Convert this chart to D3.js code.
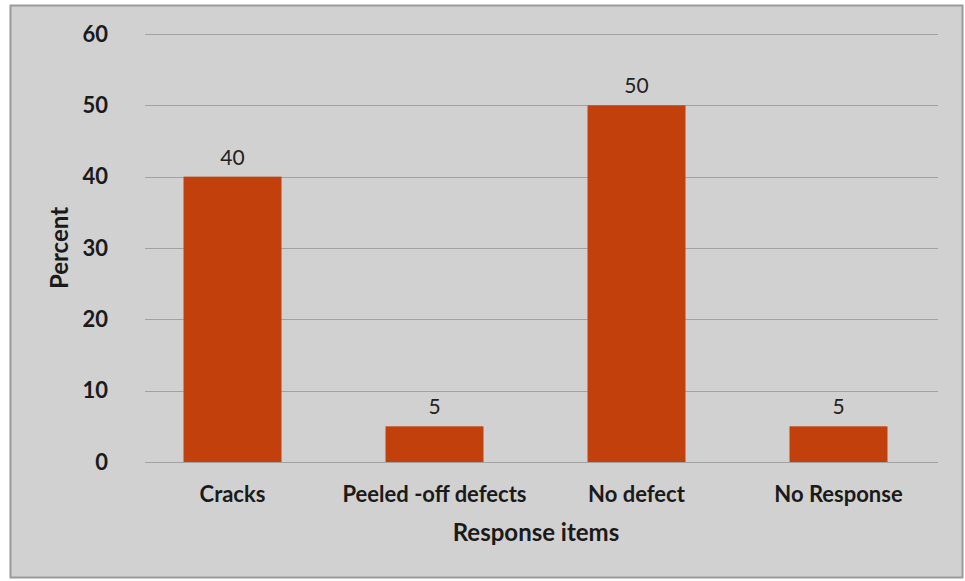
<!DOCTYPE html>
<html>
<head>
<meta charset="utf-8">
<script src="https://cdn.jsdelivr.net/npm/d3@7"></script>
<style>
  html, body { margin: 0; padding: 0; background: #ffffff; }
  svg { display: block; }
</style>
</head>
<body>
<svg id="chart" width="965" height="581"></svg>
<script>
// Survey responses on observed defects
const categories = ["Cracks", "Peeled -off defects", "No defect", "No Response"];
const percents = [40, 5, 50, 5];
const yTicks = [0, 10, 20, 30, 40, 50, 60];

const svg = d3.select("#chart");
const font = "Lato, 'Liberation Sans', Arial, sans-serif";

// outer frame
svg.append("rect")
  .attr("x", 10.5).attr("y", 5.5)
  .attr("width", 952).attr("height", 572)
  .attr("fill", "#d1d1d1")
  .attr("stroke", "#9a9a9a").attr("stroke-width", 2);

const plot = { left: 131, right: 940, top: 34, bottom: 462 };

const x = d3.scaleBand()
  .domain(categories)
  .range([plot.left, plot.right])
  .paddingInner(0.515)
  .paddingOuter(0.26);

const y = d3.scaleLinear()
  .domain([0, 60])
  .range([plot.bottom, plot.top]);

// horizontal gridlines
svg.append("g")
  .selectAll("line")
  .data(yTicks)
  .join("line")
  .attr("x1", plot.left + 14).attr("x2", plot.right - 2)
  .attr("y1", d => Math.round(y(d)) + 0.5)
  .attr("y2", d => Math.round(y(d)) + 0.5)
  .attr("stroke", "#a2a2a2").attr("stroke-width", 1);

// y tick labels
svg.append("g")
  .selectAll("text")
  .data(yTicks)
  .join("text")
  .attr("x", 108)
  .attr("y", d => y(d))
  .attr("dy", "0.35em")
  .attr("text-anchor", "end")
  .attr("font-family", font)
  .attr("font-weight", "bold")
  .attr("font-size", 22)
  .attr("fill", "#1a1a1a")
  .text(d => d);

// bars
svg.append("g")
  .selectAll("rect")
  .data(categories)
  .join("rect")
  .attr("x", d => x(d))
  .attr("y", (d, i) => y(percents[i]))
  .attr("width", x.bandwidth())
  .attr("height", (d, i) => y(0) - y(percents[i]))
  .attr("fill", "#c2400c");

// value labels
svg.append("g")
  .selectAll("text")
  .data(categories)
  .join("text")
  .attr("x", d => x(d) + x.bandwidth() / 2)
  .attr("y", (d, i) => y(percents[i]) - 12)
  .attr("text-anchor", "middle")
  .attr("font-family", font)
  .attr("font-size", 21)
  .attr("fill", "#222")
  .text((d, i) => percents[i]);

// category labels
svg.append("g")
  .selectAll("text")
  .data(categories)
  .join("text")
  .attr("x", d => x(d) + x.bandwidth() / 2)
  .attr("y", 502)
  .attr("text-anchor", "middle")
  .attr("font-family", font)
  .attr("font-weight", "bold")
  .attr("font-size", 22)
  .attr("fill", "#1a1a1a")
  .text(d => d);

// axis titles
svg.append("text")
  .attr("x", 536).attr("y", 541)
  .attr("text-anchor", "middle")
  .attr("font-family", font)
  .attr("font-weight", "bold")
  .attr("font-size", 24)
  .attr("fill", "#1a1a1a")
  .text("Response items");

svg.append("text")
  .attr("transform", "translate(68,248) rotate(-90)")
  .attr("text-anchor", "middle")
  .attr("font-family", font)
  .attr("font-weight", "bold")
  .attr("font-size", 24)
  .attr("fill", "#1a1a1a")
  .text("Percent");
</script>
</body>
</html>
